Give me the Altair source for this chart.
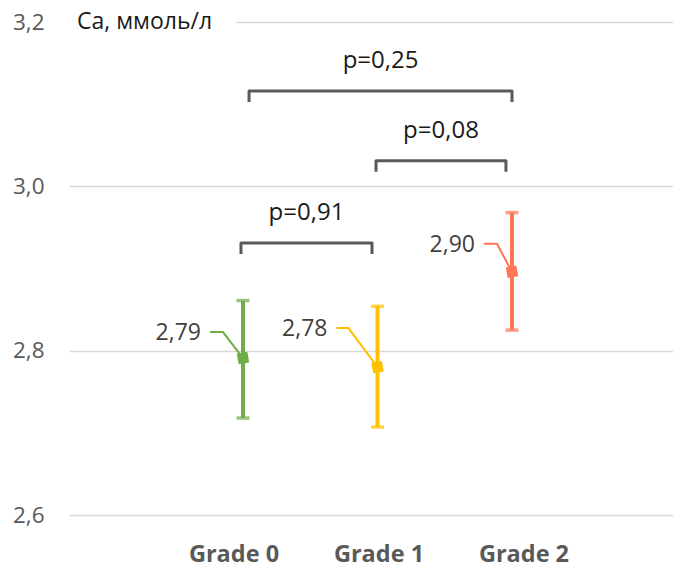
import altair as alt
import pandas as pd

# ---------------- data ----------------
categories = ["Grade 0", "Grade 1", "Grade 2"]
positions = [1, 2, 3]
means = [2.791, 2.780, 2.896]
value_labels = ["2,79", "2,78", "2,90"]
lows = [2.718, 2.707, 2.825]
highs = [2.861, 2.854, 2.968]

p_labels = ["p=0,91", "p=0,08", "p=0,25"]
p_left = [0.985, 1.989, 1.045]
p_right = [1.959, 2.955, 3.0]
p_level = [2.931, 3.031, 3.116]

y_ticks = [2.6, 2.8, 3.0, 3.2]
y_title = "Ca, ммоль/л"

# ---------------- styles / layout ----------------
bar_colors = ["#70AD47", "#FFC000", "#FF7555"]
marker_colors = ["#70AD47", "#FFC000", "#FF2A2A"]
leader_colors = ["#70AD47", "#FFC000", "#FF5050"]
FONT = "Open Sans"
W, H = 604, 493
X_DOMAIN = [-0.2937, 4.197]
Y_DOMAIN = [2.6, 3.2]
PX_X = W / (X_DOMAIN[1] - X_DOMAIN[0])
PX_Y = H / (Y_DOMAIN[1] - Y_DOMAIN[0])
# category label centres (category axis bands are offset from the points)
label_pos = [0.933, 2.011, 3.089]
# leader offsets in pixels: (dx elbow, dy elbow, dx end)
leader_px = [(-20, -26, -33), (-29, -39, -41), (-15, -28, -28)]
FOOT_PX = 11

xs = alt.Scale(domain=X_DOMAIN, nice=False, zero=False)
ys = alt.Scale(domain=Y_DOMAIN, nice=False, zero=False)
cscale = alt.Scale(domain=categories, range=bar_colors)
mscale = alt.Scale(domain=categories, range=marker_colors)
lscale = alt.Scale(domain=categories, range=leader_colors)

points = pd.DataFrame({"cat": categories, "pos": positions, "mean": means,
                       "low": lows, "high": highs, "label": value_labels,
                       "lpos": label_pos})
title_df = pd.DataFrame({"t": [y_title]})

lead_rows, lab_rows = [], []
for c, p, m, lab, (dx1, dy, dx2) in zip(categories, positions, means, value_labels, leader_px):
    ly = m - dy / PX_Y
    lead_rows += [
        {"cat": c, "o": 0, "x": p, "y": m},
        {"cat": c, "o": 1, "x": p + dx1 / PX_X, "y": ly},
        {"cat": c, "o": 2, "x": p + dx2 / PX_X, "y": ly},
    ]
    lab_rows.append({"cat": c, "x": p + (dx2 - 9) / PX_X, "y": ly, "label": lab})
leaders = pd.DataFrame(lead_rows)
vlabels = pd.DataFrame(lab_rows)

br_rows, pt_rows = [], []
for i, (lab, l, r, lv) in enumerate(zip(p_labels, p_left, p_right, p_level)):
    foot = lv - FOOT_PX / PX_Y
    br_rows += [
        {"b": i, "o": 0, "x": l, "y": foot},
        {"b": i, "o": 1, "x": l, "y": lv},
        {"b": i, "o": 2, "x": r, "y": lv},
        {"b": i, "o": 3, "x": r, "y": foot},
    ]
    pt_rows.append({"x": (l + r) / 2, "y": lv, "label": lab})
brackets = pd.DataFrame(br_rows)
ptexts = pd.DataFrame(pt_rows)

base = alt.Chart(points)

errbars = base.mark_rule(strokeWidth=4).encode(
    x=alt.X("pos:Q", scale=xs, axis=None),
    y=alt.Y("low:Q", scale=ys,
            axis=alt.Axis(values=y_ticks, labelExpr="replace(format(datum.value, '.1f'), '.', ',')",
                          title=None, grid=True, gridColor="#D9D9D9", gridWidth=1.5,
                          domain=False, ticks=False, labelFontSize=22.5, labelColor="#595959",
                          labelFont=FONT, labelPadding=25)),
    y2="high:Q",
    color=alt.Color("cat:N", scale=cscale, legend=None),
)

cap_lo = base.mark_tick(orient="horizontal", size=13, thickness=3.5).encode(
    x=alt.X("pos:Q", scale=xs), y=alt.Y("low:Q", scale=ys),
    color=alt.Color("cat:N", scale=cscale, legend=None))
cap_hi = base.mark_tick(orient="horizontal", size=13, thickness=3.5).encode(
    x=alt.X("pos:Q", scale=xs), y=alt.Y("high:Q", scale=ys),
    color=alt.Color("cat:N", scale=cscale, legend=None))

markers = base.mark_point(shape="square", filled=True, size=115, opacity=1, angle=350).encode(
    x=alt.X("pos:Q", scale=xs), y=alt.Y("mean:Q", scale=ys),
    color=alt.Color("cat:N", scale=mscale, legend=None))

leader_lines = alt.Chart(leaders).mark_line(strokeWidth=2).encode(
    x=alt.X("x:Q", scale=xs), y=alt.Y("y:Q", scale=ys), order="o:O",
    color=alt.Color("cat:N", scale=lscale, legend=None), detail="cat:N")

value_text = alt.Chart(vlabels).mark_text(align="right", baseline="middle", dy=1,
                                          fontSize=23, font=FONT, color="#404040").encode(
    x=alt.X("x:Q", scale=xs), y=alt.Y("y:Q", scale=ys), text="label:N")

bracket_lines = alt.Chart(brackets).mark_line(strokeWidth=3, color="#595959", strokeJoin="round").encode(
    x=alt.X("x:Q", scale=xs), y=alt.Y("y:Q", scale=ys), order="o:O", detail="b:N")

p_text = alt.Chart(ptexts).mark_text(align="center", baseline="middle", dy=-30,
                                     fontSize=24, font=FONT, color="#1A1A1A").encode(
    x=alt.X("x:Q", scale=xs), y=alt.Y("y:Q", scale=ys), text="label:N")

cat_text = base.mark_text(align="center", baseline="middle", fontSize=23.5, fontWeight="bold",
                          font=FONT, color="#595959").encode(
    x=alt.X("lpos:Q", scale=xs), y=alt.value(H + 40), text="cat:N")

cover = alt.Chart(title_df).mark_rule(color="white", strokeWidth=5).encode(
    x=alt.value(0), x2=alt.value(167), y=alt.value(0))

title_text = alt.Chart(title_df).mark_text(align="left", baseline="middle", fontSize=23,
                                           font=FONT, color="#1A1A1A").encode(
    x=alt.value(8), y=alt.value(0), text="t:N")

chart = alt.layer(
    errbars, cap_lo, cap_hi, leader_lines, markers, value_text,
    bracket_lines, p_text, cat_text, cover, title_text
).properties(
    width=W, height=H,
    background="white",
    autosize=alt.AutoSizeParams(type="none"),
    padding={"left": 61, "top": 14, "right": 0, "bottom": 56},
).configure_view(strokeWidth=0, stroke="transparent").configure_axis(
    domain=False, ticks=False).configure_axisX(grid=False, labels=False)

chart.save("out.html", embed_options={"renderer": "svg", "actions": False})
